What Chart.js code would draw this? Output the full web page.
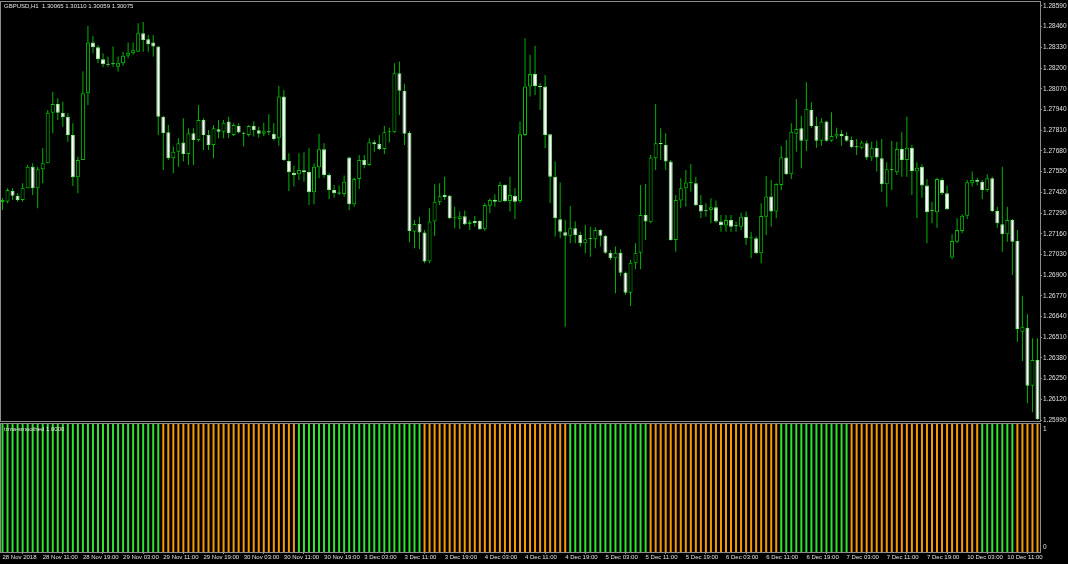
<!DOCTYPE html>
<html>
<head>
<meta charset="utf-8">
<title>GBPUSD,H1</title>
<script src="https://cdn.jsdelivr.net/npm/chart.js@4.4.1/dist/chart.umd.min.js"></script>
<style>
  html, body { margin: 0; padding: 0; background: #000; }
  #wrap { position: relative; width: 1068px; height: 564px; overflow: hidden; background: #000; }
  canvas { position: absolute; left: 0; }
  #priceCv { top: 0; }
  #indCv { top: 422px; }
  .lbl { position: absolute; color: #e6e6e6; font: 6px 'Liberation Sans', Arial, sans-serif; white-space: pre; line-height: 8px; }
</style>
</head>
<body>
<div id="wrap">
  <canvas id="priceCv" width="1068" height="424"></canvas>
  <canvas id="indCv" width="1068" height="142"></canvas>
  <div class="lbl" id="title" style="left:4px; top:2px;"></div>
  <div class="lbl" id="indName" style="left:4px; top:425px;"></div>
</div>
<script>
// GBPUSD H1, 28 Nov 2018 03:00 .. 10 Dec 2018 17:00 (one bar per hour)
const symbolTitle = 'GBPUSD,H1  1.30065 1.30110 1.30059 1.30075';
const indicatorName = 'trma-smoothed 1.0000';

const opens = [
  1.27359, 1.27361, 1.27429, 1.27399, 1.27372, 1.27446, 1.27581, 1.27446, 1.27565, 1.27603,
  1.27920, 1.27975, 1.27920, 1.27895, 1.27780, 1.27515, 1.27623, 1.28042, 1.28360, 1.28331,
  1.28256, 1.28224, 1.28226, 1.28209, 1.28231, 1.28278, 1.28293, 1.28303, 1.28419, 1.28381,
  1.28360, 1.28335, 1.27895, 1.27797, 1.27634, 1.27675, 1.27732, 1.27661, 1.27791, 1.27749,
  1.27874, 1.27780, 1.27717, 1.27816, 1.27801, 1.27864, 1.27780, 1.27837, 1.27791, 1.27780,
  1.27837, 1.27810, 1.27788, 1.27799, 1.27788, 1.27760, 1.28021, 1.27617, 1.27542, 1.27533,
  1.27559, 1.27548, 1.27420, 1.27577, 1.27690, 1.27529, 1.27435, 1.27414, 1.27410, 1.27638,
  1.27345, 1.27504, 1.27623, 1.27592, 1.27734, 1.27724, 1.27692, 1.27797, 1.27797, 1.28168,
  1.28058, 1.27793, 1.27173, 1.27221, 1.27167, 1.26985, 1.27236, 1.27358, 1.27403, 1.27399,
  1.27257, 1.27253, 1.27270, 1.27219, 1.27240, 1.27240, 1.27188, 1.27336, 1.27374, 1.27361,
  1.27466, 1.27366, 1.27399, 1.27366, 1.27780, 1.28084, 1.28163, 1.28084, 1.28084, 1.27785,
  1.27518, 1.27251, 1.27169, 1.27148, 1.27194, 1.27152, 1.27100, 1.27127, 1.27125, 1.27184,
  1.27148, 1.27041, 1.27006, 1.27041, 1.26915, 1.26790, 1.26975, 1.27041, 1.27278, 1.27232,
  1.27634, 1.27726, 1.27719, 1.27613, 1.27121, 1.27368, 1.27446, 1.27479, 1.27477, 1.27341,
  1.27303, 1.27309, 1.27326, 1.27236, 1.27211, 1.27246, 1.27209, 1.27204, 1.27267, 1.27132,
  1.27132, 1.27037, 1.27267, 1.27393, 1.27299, 1.27466, 1.27638, 1.27533, 1.27787, 1.27822,
  1.27744, 1.27937, 1.27837, 1.27743, 1.27864, 1.27743, 1.27770, 1.27787, 1.27774, 1.27749,
  1.27705, 1.27700, 1.27728, 1.27638, 1.27700, 1.27634, 1.27471, 1.27560, 1.27546, 1.27692,
  1.27623, 1.27700, 1.27550, 1.27581, 1.27462, 1.27303, 1.27295, 1.27498, 1.27414, 1.27010,
  1.27110, 1.27177, 1.27273, 1.27477, 1.27498, 1.27487, 1.27435, 1.27508, 1.27303, 1.27219,
  1.27157, 1.27246, 1.27115, 1.26545, 1.26570, 1.26206, 1.26367
];
const highs = [
  1.27385, 1.27446, 1.27446, 1.27414, 1.27477, 1.27592, 1.27603, 1.27581, 1.27697, 1.27937,
  1.28052, 1.28011, 1.27989, 1.27917, 1.27854, 1.27644, 1.28178, 1.28465, 1.28402, 1.28345,
  1.28293, 1.28272, 1.28335, 1.28272, 1.28303, 1.28360, 1.28360, 1.28482, 1.28490, 1.28408,
  1.28408, 1.28339, 1.27900, 1.27843, 1.27707, 1.27760, 1.27885, 1.27822, 1.27822, 1.27969,
  1.27885, 1.27812, 1.27843, 1.27874, 1.27874, 1.27895, 1.27854, 1.27854, 1.27801, 1.27843,
  1.27864, 1.27832, 1.27857, 1.27910, 1.27854, 1.28088, 1.28063, 1.27665, 1.27586, 1.27665,
  1.27672, 1.27697, 1.27603, 1.27787, 1.27728, 1.27540, 1.27466, 1.27462, 1.27525, 1.27644,
  1.27512, 1.27655, 1.27655, 1.27760, 1.27749, 1.27780, 1.27837, 1.27826, 1.28231, 1.28241,
  1.28101, 1.27805, 1.27246, 1.27267, 1.27184, 1.27320, 1.27471, 1.27477, 1.27518, 1.27403,
  1.27330, 1.27299, 1.27305, 1.27246, 1.27272, 1.27245, 1.27351, 1.27383, 1.27408, 1.27487,
  1.27471, 1.27518, 1.27446, 1.27864, 1.28388, 1.28283, 1.28341, 1.28105, 1.28157, 1.27787,
  1.27613, 1.27481, 1.27246, 1.27334, 1.27236, 1.27173, 1.27215, 1.27204, 1.27201, 1.27188,
  1.27152, 1.27058, 1.27079, 1.27062, 1.26922, 1.26995, 1.27100, 1.27466, 1.27472, 1.27655,
  1.27975, 1.27822, 1.27791, 1.27623, 1.27403, 1.27508, 1.27560, 1.27598, 1.27518, 1.27403,
  1.27351, 1.27383, 1.27368, 1.27278, 1.27278, 1.27278, 1.27236, 1.27292, 1.27299, 1.27173,
  1.27142, 1.27351, 1.27523, 1.27498, 1.27477, 1.27711, 1.27749, 1.27854, 1.28006, 1.27901,
  1.28111, 1.27986, 1.27895, 1.27885, 1.27870, 1.27923, 1.27826, 1.27812, 1.27797, 1.27770,
  1.27755, 1.27743, 1.27743, 1.27738, 1.27743, 1.27755, 1.27609, 1.27743, 1.27738, 1.27797,
  1.27895, 1.27717, 1.27609, 1.27596, 1.27504, 1.27361, 1.27512, 1.27512, 1.27462, 1.27157,
  1.27257, 1.27282, 1.27498, 1.27550, 1.27512, 1.27498, 1.27533, 1.27518, 1.27330, 1.27581,
  1.27330, 1.27253, 1.27184, 1.26771, 1.26654, 1.26504, 1.26504
];
const lows = [
  1.27309, 1.27351, 1.27372, 1.27361, 1.27361, 1.27446, 1.27403, 1.27320, 1.27477, 1.27603,
  1.27791, 1.27874, 1.27832, 1.27738, 1.27460, 1.27414, 1.27623, 1.27969, 1.28293, 1.28231,
  1.28205, 1.28209, 1.28209, 1.28178, 1.28214, 1.28262, 1.28283, 1.28303, 1.28303, 1.28303,
  1.28272, 1.27780, 1.27560, 1.27623, 1.27540, 1.27581, 1.27613, 1.27592, 1.27592, 1.27738,
  1.27686, 1.27686, 1.27634, 1.27760, 1.27760, 1.27760, 1.27774, 1.27791, 1.27707, 1.27770,
  1.27770, 1.27763, 1.27774, 1.27780, 1.27743, 1.27713, 1.27617, 1.27429, 1.27456, 1.27498,
  1.27487, 1.27341, 1.27345, 1.27508, 1.27512, 1.27378, 1.27386, 1.27403, 1.27393, 1.27309,
  1.27330, 1.27441, 1.27571, 1.27587, 1.27675, 1.27686, 1.27661, 1.27734, 1.27793, 1.27906,
  1.27717, 1.27106, 1.27069, 1.27064, 1.26975, 1.26975, 1.27146, 1.27341, 1.27372, 1.27253,
  1.27194, 1.27190, 1.27215, 1.27184, 1.27204, 1.27184, 1.27177, 1.27289, 1.27330, 1.27358,
  1.27358, 1.27299, 1.27253, 1.27353, 1.27774, 1.28021, 1.28031, 1.27937, 1.27697, 1.27351,
  1.27142, 1.27132, 1.26576, 1.27100, 1.27100, 1.27079, 1.27037, 1.27016, 1.27069, 1.27079,
  1.27033, 1.26995, 1.26786, 1.26895, 1.26775, 1.26706, 1.26937, 1.26937, 1.27121, 1.27226,
  1.27560, 1.27623, 1.27560, 1.27116, 1.27047, 1.27320, 1.27330, 1.27424, 1.27334, 1.27257,
  1.27267, 1.27226, 1.27229, 1.27173, 1.27173, 1.27173, 1.27173, 1.27184, 1.27089, 1.27006,
  1.27033, 1.26975, 1.27152, 1.27204, 1.27257, 1.27435, 1.27529, 1.27504, 1.27675, 1.27571,
  1.27680, 1.27826, 1.27700, 1.27713, 1.27738, 1.27738, 1.27755, 1.27713, 1.27738, 1.27697,
  1.27655, 1.27692, 1.27623, 1.27617, 1.27550, 1.27424, 1.27330, 1.27435, 1.27529, 1.27518,
  1.27518, 1.27403, 1.27257, 1.27386, 1.27100, 1.27226, 1.27198, 1.27403, 1.27309, 1.27002,
  1.27100, 1.27163, 1.27253, 1.27456, 1.27462, 1.27378, 1.27424, 1.27295, 1.27198, 1.27047,
  1.27110, 1.26901, 1.26482, 1.26361, 1.26095, 1.26039, 1.25990
];
const closes = [
  1.27372, 1.27435, 1.27399, 1.27372, 1.27449, 1.27581, 1.27446, 1.27565, 1.27603, 1.27920,
  1.27975, 1.27920, 1.27891, 1.27780, 1.27515, 1.27623, 1.28042, 1.28360, 1.28331, 1.28256,
  1.28224, 1.28221, 1.28224, 1.28234, 1.28278, 1.28297, 1.28312, 1.28419, 1.28377, 1.28352,
  1.28335, 1.27895, 1.27791, 1.27634, 1.27675, 1.27728, 1.27661, 1.27791, 1.27749, 1.27874,
  1.27780, 1.27717, 1.27822, 1.27801, 1.27857, 1.27791, 1.27843, 1.27795, 1.27788, 1.27837,
  1.27812, 1.27788, 1.27803, 1.27797, 1.27755, 1.28021, 1.27623, 1.27546, 1.27529, 1.27560,
  1.27546, 1.27420, 1.27581, 1.27690, 1.27529, 1.27435, 1.27414, 1.27412, 1.27487, 1.27345,
  1.27504, 1.27623, 1.27592, 1.27734, 1.27722, 1.27692, 1.27797, 1.27799, 1.28168, 1.28057,
  1.27787, 1.27177, 1.27221, 1.27167, 1.26985, 1.27236, 1.27361, 1.27395, 1.27391, 1.27257,
  1.27259, 1.27270, 1.27219, 1.27232, 1.27228, 1.27188, 1.27341, 1.27372, 1.27361, 1.27466,
  1.27366, 1.27403, 1.27361, 1.27785, 1.28084, 1.28163, 1.28088, 1.28082, 1.27780, 1.27518,
  1.27257, 1.27173, 1.27148, 1.27194, 1.27152, 1.27100, 1.27125, 1.27125, 1.27184, 1.27148,
  1.27041, 1.27006, 1.27041, 1.26915, 1.26790, 1.26978, 1.27041, 1.27278, 1.27236, 1.27638,
  1.27728, 1.27724, 1.27613, 1.27121, 1.27372, 1.27446, 1.27481, 1.27481, 1.27341, 1.27299,
  1.27301, 1.27326, 1.27236, 1.27215, 1.27246, 1.27204, 1.27207, 1.27267, 1.27132, 1.27133,
  1.27037, 1.27272, 1.27393, 1.27299, 1.27472, 1.27640, 1.27533, 1.27801, 1.27818, 1.27743,
  1.27944, 1.27837, 1.27743, 1.27864, 1.27743, 1.27774, 1.27787, 1.27774, 1.27744, 1.27703,
  1.27703, 1.27732, 1.27638, 1.27700, 1.27638, 1.27471, 1.27565, 1.27559, 1.27692, 1.27623,
  1.27700, 1.27554, 1.27575, 1.27462, 1.27295, 1.27301, 1.27504, 1.27414, 1.27314, 1.27115,
  1.27184, 1.27273, 1.27483, 1.27498, 1.27487, 1.27435, 1.27508, 1.27303, 1.27226, 1.27157,
  1.27246, 1.27110, 1.26562, 1.26576, 1.26206, 1.26367, 1.25997
];

// time axis: a label every 8 bars
const timeTicks = [
  '28 Nov 2018', '28 Nov 11:00', '28 Nov 19:00', '29 Nov 03:00', '29 Nov 11:00', '29 Nov 19:00',
  '30 Nov 03:00', '30 Nov 11:00', '30 Nov 19:00', '3 Dec 03:00', '3 Dec 11:00', '3 Dec 19:00',
  '4 Dec 03:00', '4 Dec 11:00', '4 Dec 19:00', '5 Dec 03:00', '5 Dec 11:00', '5 Dec 19:00',
  '6 Dec 03:00', '6 Dec 11:00', '6 Dec 19:00', '7 Dec 03:00', '7 Dec 11:00', '7 Dec 19:00',
  '10 Dec 03:00', '10 Dec 11:00'
];
const priceTicks = [
  1.25990, 1.26120, 1.26250, 1.26380, 1.26510, 1.26640, 1.26770, 1.26900, 1.27030, 1.27160, 1.27290,
  1.27420, 1.27550, 1.27680, 1.27810, 1.27940, 1.28070, 1.28200, 1.28330, 1.28460, 1.28590
];
const priceMin = 1.25984;
const priceMax = 1.28615;

// indicator window: value 1 on every bar, colour by trend
const indTicks = [0, 1];
const trendRuns = [32, 27, 25, 29, 16, 26, 14, 26, 7, 5]; // bars per run, first run is up

const WICK = '#00b400';
const BULL_FILL = '#000000', BULL_EDGE = '#00c000';
const BEAR_FILL = '#ffffff', BEAR_EDGE = '#8ce88c';
const UP = '#2ee62e', DOWN = '#f79a00';
const FRAME = '#8c8c8c', TXT = '#e0e0e0';
const FONT = "'Liberation Sans', Arial, sans-serif";

document.getElementById('title').textContent = symbolTitle;
document.getElementById('indName').textContent = indicatorName;

const labels = opens.map((o, i) => i);
const trend = [];
trendRuns.forEach((n, r) => { for (let k = 0; k < n; k++) trend.push(r % 2 === 0 ? 'up' : 'down'); });
const indValues = trend.map(() => 1);

// no extra room for half-labels at the ends, so the plot keeps the full height
const noPad = s => { s.paddingTop = 0; s.paddingBottom = 0; s.paddingLeft = 0; s.paddingRight = 0; };

// gray box round the plot area, like the terminal window
const frame = {
  id: 'frame',
  afterDraw(chart) {
    const { ctx, chartArea: a } = chart;
    ctx.save();
    ctx.strokeStyle = FRAME;
    ctx.lineWidth = 1;
    ctx.strokeRect(a.left + 0.5, a.top - 0.5, a.right - a.left, a.bottom - a.top + 1);
    ctx.restore();
  }
};

// "1" sits just under the top, "0" just above the bottom
const indAxisLabels = {
  id: 'indAxisLabels',
  afterDraw(chart) {
    const { ctx, chartArea: a } = chart;
    const s = chart.scales.y;
    ctx.save();
    ctx.fillStyle = TXT;
    ctx.font = '6.5px ' + FONT;
    ctx.textAlign = 'left';
    indTicks.forEach(v => {
      const y = s.getPixelForValue(v);
      if (v === s.max) { ctx.textBaseline = 'top'; ctx.fillText(String(v), a.right + 3, y + 2); }
      else { ctx.textBaseline = 'bottom'; ctx.fillText(String(v), a.right + 3, y - 2); }
    });
    ctx.restore();
  }
};

const isBull = i => closes[i] >= opens[i];

new Chart(document.getElementById('priceCv'), {
  type: 'bar',
  data: {
    labels: labels,
    datasets: [
      {
        label: 'body',
        data: opens.map((o, i) => [o, closes[i]]),
        backgroundColor: c => isBull(c.dataIndex) ? BULL_FILL : BEAR_FILL,
        borderColor: c => isBull(c.dataIndex) ? BULL_EDGE : BEAR_EDGE,
        borderWidth: 1,
        borderSkipped: false,
        barThickness: 4,
        minBarLength: 1,
        inflateAmount: 0,
        grouped: false,
        order: 1
      },
      {
        label: 'wick',
        data: lows.map((l, i) => [l, highs[i]]),
        backgroundColor: WICK,
        borderWidth: 0,
        barThickness: 1,
        inflateAmount: 0,
        grouped: false,
        order: 2
      }
    ]
  },
  options: {
    responsive: false,
    animation: false,
    devicePixelRatio: 1,
    events: [],
    layout: { padding: { top: 2, bottom: 3, left: 0, right: 0 } },
    plugins: { legend: { display: false }, tooltip: { enabled: false } },
    scales: {
      x: { display: false, offset: true },
      y: {
        position: 'right',
        min: priceMin,
        max: priceMax,
        afterFit: s => { s.width = 28; noPad(s); },
        afterBuildTicks: s => { s.ticks = priceTicks.map(v => ({ value: v })); },
        ticks: { color: TXT, font: { family: FONT, size: 6.5 }, padding: 1, callback: v => v.toFixed(5) },
        grid: { drawOnChartArea: false, drawTicks: true, tickLength: 2, color: FRAME },
        border: { display: false }
      }
    }
  },
  plugins: [frame]
});

new Chart(document.getElementById('indCv'), {
  type: 'bar',
  data: {
    labels: labels,
    datasets: [{
      label: indicatorName,
      data: indValues,
      backgroundColor: trend.map(t => t === 'up' ? UP : DOWN),
      borderWidth: 0,
      barThickness: 2,
      inflateAmount: 0
    }]
  },
  options: {
    responsive: false,
    animation: false,
    devicePixelRatio: 1,
    events: [],
    layout: { padding: { top: 2, bottom: 0, left: 0, right: 0 } },
    plugins: { legend: { display: false }, tooltip: { enabled: false } },
    scales: {
      x: {
        offset: true,
        afterFit: s => { s.height = 12; noPad(s); },
        ticks: {
          autoSkip: false, maxRotation: 0, minRotation: 0, align: 'start', padding: 0,
          color: TXT, font: { family: FONT, size: 6 },
          callback: (v, i) => (i % 8 === 0 ? timeTicks[i / 8] : null)
        },
        grid: { drawOnChartArea: false, drawTicks: true, tickLength: 2, color: FRAME },
        border: { display: false }
      },
      y: {
        position: 'right',
        min: 0,
        max: 1,
        afterFit: s => { s.width = 28; noPad(s); },
        afterBuildTicks: s => { s.ticks = indTicks.map(v => ({ value: v })); },
        ticks: { display: false },
        grid: { display: false },
        border: { display: false }
      }
    }
  },
  plugins: [frame, indAxisLabels]
});
</script>
</body>
</html>
